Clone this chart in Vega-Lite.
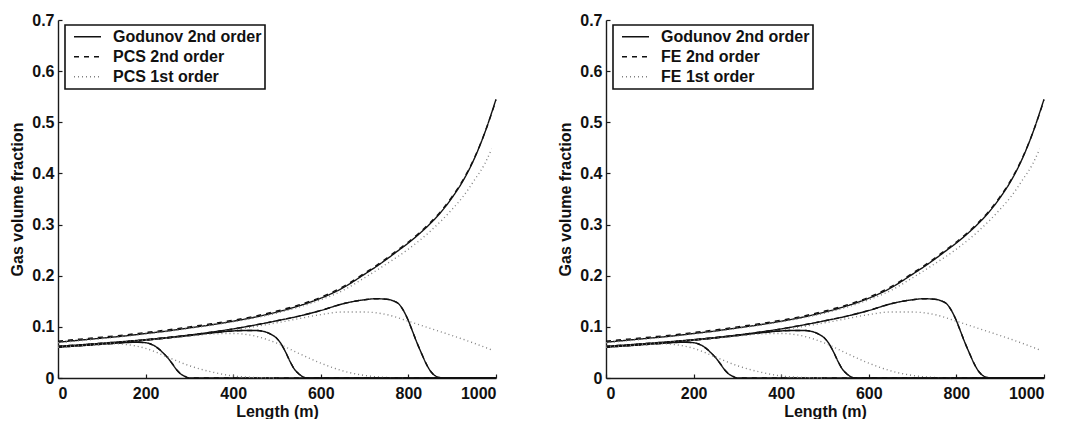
{
  "$schema": "https://vega.github.io/schema/vega-lite/v6.json",
  "padding": {"left": 9, "top": 12, "right": 5, "bottom": 0},
  "config": {
    "view": {"stroke": null},
    "font": "Liberation Sans",
    "axis": {
      "grid": false,
      "domainColor": "#1a1a1a",
      "domainWidth": 1.4,
      "tickColor": "#1a1a1a",
      "tickWidth": 1.2,
      "tickSize": -4,
      "labelFont": "Liberation Sans",
      "labelFontWeight": "bold",
      "labelFontSize": 16,
      "labelColor": "#111",
      "titleFont": "Liberation Sans",
      "titleFontWeight": "bold",
      "titleFontSize": 16,
      "titleColor": "#111"
    },
    "legend": {
      "orient": "none",
      "legendX": 7,
      "legendY": 5,
      "title": null,
      "strokeColor": "#111",
      "fillColor": "white",
      "padding": 3,
      "symbolOffset": 5,
      "labelFont": "Liberation Sans",
      "labelFontWeight": "bold",
      "labelFontSize": 16,
      "labelColor": "#111",
      "labelOffset": 11,
      "symbolType": "stroke",
      "symbolSize": 729,
      "symbolStrokeWidth": 1.3,
      "clipHeight": 17.5,
      "rowPadding": 2
    }
  },
  "datasets": {
    "names": [
      {"s": "G", "pcs": "Godunov 2nd order", "fe": "Godunov 2nd order"},
      {"s": "S2", "pcs": "PCS 2nd order", "fe": "FE 2nd order"},
      {"s": "S1", "pcs": "PCS 1st order", "fe": "FE 1st order"}
    ],
    "curves": [
      {"c": 1, "s": "G", "x": 0, "y": 0.070},
      {"c": 1, "s": "G", "x": 50, "y": 0.074},
      {"c": 1, "s": "G", "x": 100, "y": 0.078},
      {"c": 1, "s": "G", "x": 150, "y": 0.082},
      {"c": 1, "s": "G", "x": 200, "y": 0.087},
      {"c": 1, "s": "G", "x": 250, "y": 0.092},
      {"c": 1, "s": "G", "x": 300, "y": 0.098},
      {"c": 1, "s": "G", "x": 350, "y": 0.104},
      {"c": 1, "s": "G", "x": 400, "y": 0.111},
      {"c": 1, "s": "G", "x": 450, "y": 0.119},
      {"c": 1, "s": "G", "x": 500, "y": 0.129},
      {"c": 1, "s": "G", "x": 550, "y": 0.141},
      {"c": 1, "s": "G", "x": 600, "y": 0.156},
      {"c": 1, "s": "G", "x": 650, "y": 0.176},
      {"c": 1, "s": "G", "x": 700, "y": 0.203},
      {"c": 1, "s": "G", "x": 725, "y": 0.217},
      {"c": 1, "s": "G", "x": 750, "y": 0.232},
      {"c": 1, "s": "G", "x": 775, "y": 0.248},
      {"c": 1, "s": "G", "x": 800, "y": 0.264},
      {"c": 1, "s": "G", "x": 825, "y": 0.282},
      {"c": 1, "s": "G", "x": 850, "y": 0.302},
      {"c": 1, "s": "G", "x": 875, "y": 0.325},
      {"c": 1, "s": "G", "x": 900, "y": 0.353},
      {"c": 1, "s": "G", "x": 925, "y": 0.386},
      {"c": 1, "s": "G", "x": 950, "y": 0.428},
      {"c": 1, "s": "G", "x": 975, "y": 0.481},
      {"c": 1, "s": "G", "x": 1000, "y": 0.545},

      {"c": 1, "s": "S2", "x": 0, "y": 0.072},
      {"c": 1, "s": "S2", "x": 50, "y": 0.076},
      {"c": 1, "s": "S2", "x": 100, "y": 0.080},
      {"c": 1, "s": "S2", "x": 150, "y": 0.084},
      {"c": 1, "s": "S2", "x": 200, "y": 0.089},
      {"c": 1, "s": "S2", "x": 250, "y": 0.094},
      {"c": 1, "s": "S2", "x": 300, "y": 0.100},
      {"c": 1, "s": "S2", "x": 350, "y": 0.106},
      {"c": 1, "s": "S2", "x": 400, "y": 0.113},
      {"c": 1, "s": "S2", "x": 450, "y": 0.121},
      {"c": 1, "s": "S2", "x": 500, "y": 0.131},
      {"c": 1, "s": "S2", "x": 550, "y": 0.143},
      {"c": 1, "s": "S2", "x": 600, "y": 0.158},
      {"c": 1, "s": "S2", "x": 650, "y": 0.178},
      {"c": 1, "s": "S2", "x": 700, "y": 0.205},
      {"c": 1, "s": "S2", "x": 725, "y": 0.219},
      {"c": 1, "s": "S2", "x": 750, "y": 0.234},
      {"c": 1, "s": "S2", "x": 775, "y": 0.250},
      {"c": 1, "s": "S2", "x": 800, "y": 0.266},
      {"c": 1, "s": "S2", "x": 825, "y": 0.284},
      {"c": 1, "s": "S2", "x": 850, "y": 0.304},
      {"c": 1, "s": "S2", "x": 875, "y": 0.327},
      {"c": 1, "s": "S2", "x": 900, "y": 0.355},
      {"c": 1, "s": "S2", "x": 925, "y": 0.388},
      {"c": 1, "s": "S2", "x": 950, "y": 0.429},
      {"c": 1, "s": "S2", "x": 975, "y": 0.481},
      {"c": 1, "s": "S2", "x": 1000, "y": 0.543},

      {"c": 1, "s": "S1", "x": 0, "y": 0.069},
      {"c": 1, "s": "S1", "x": 100, "y": 0.077},
      {"c": 1, "s": "S1", "x": 200, "y": 0.086},
      {"c": 1, "s": "S1", "x": 300, "y": 0.097},
      {"c": 1, "s": "S1", "x": 400, "y": 0.110},
      {"c": 1, "s": "S1", "x": 500, "y": 0.127},
      {"c": 1, "s": "S1", "x": 600, "y": 0.153},
      {"c": 1, "s": "S1", "x": 650, "y": 0.171},
      {"c": 1, "s": "S1", "x": 700, "y": 0.196},
      {"c": 1, "s": "S1", "x": 750, "y": 0.223},
      {"c": 1, "s": "S1", "x": 800, "y": 0.252},
      {"c": 1, "s": "S1", "x": 850, "y": 0.287},
      {"c": 1, "s": "S1", "x": 900, "y": 0.330},
      {"c": 1, "s": "S1", "x": 925, "y": 0.355},
      {"c": 1, "s": "S1", "x": 950, "y": 0.386},
      {"c": 1, "s": "S1", "x": 975, "y": 0.420},
      {"c": 1, "s": "S1", "x": 990, "y": 0.448},

      {"c": 2, "s": "G", "x": 0, "y": 0.062},
      {"c": 2, "s": "G", "x": 100, "y": 0.068},
      {"c": 2, "s": "G", "x": 200, "y": 0.075},
      {"c": 2, "s": "G", "x": 300, "y": 0.084},
      {"c": 2, "s": "G", "x": 400, "y": 0.096},
      {"c": 2, "s": "G", "x": 500, "y": 0.112},
      {"c": 2, "s": "G", "x": 550, "y": 0.121},
      {"c": 2, "s": "G", "x": 600, "y": 0.132},
      {"c": 2, "s": "G", "x": 650, "y": 0.145},
      {"c": 2, "s": "G", "x": 700, "y": 0.153},
      {"c": 2, "s": "G", "x": 725, "y": 0.155},
      {"c": 2, "s": "G", "x": 750, "y": 0.154},
      {"c": 2, "s": "G", "x": 765, "y": 0.151},
      {"c": 2, "s": "G", "x": 780, "y": 0.143},
      {"c": 2, "s": "G", "x": 790, "y": 0.130},
      {"c": 2, "s": "G", "x": 800, "y": 0.112},
      {"c": 2, "s": "G", "x": 810, "y": 0.090},
      {"c": 2, "s": "G", "x": 820, "y": 0.068},
      {"c": 2, "s": "G", "x": 830, "y": 0.048},
      {"c": 2, "s": "G", "x": 840, "y": 0.029},
      {"c": 2, "s": "G", "x": 850, "y": 0.014},
      {"c": 2, "s": "G", "x": 860, "y": 0.005},
      {"c": 2, "s": "G", "x": 870, "y": 0.001},
      {"c": 2, "s": "G", "x": 880, "y": 0.0},
      {"c": 2, "s": "G", "x": 1000, "y": 0.0},

      {"c": 2, "s": "S2", "x": 0, "y": 0.062},
      {"c": 2, "s": "S2", "x": 100, "y": 0.068},
      {"c": 2, "s": "S2", "x": 200, "y": 0.075},
      {"c": 2, "s": "S2", "x": 300, "y": 0.084},
      {"c": 2, "s": "S2", "x": 400, "y": 0.096},
      {"c": 2, "s": "S2", "x": 500, "y": 0.112},
      {"c": 2, "s": "S2", "x": 550, "y": 0.121},
      {"c": 2, "s": "S2", "x": 600, "y": 0.132},
      {"c": 2, "s": "S2", "x": 650, "y": 0.145},
      {"c": 2, "s": "S2", "x": 700, "y": 0.153},
      {"c": 2, "s": "S2", "x": 725, "y": 0.155},
      {"c": 2, "s": "S2", "x": 750, "y": 0.154},
      {"c": 2, "s": "S2", "x": 765, "y": 0.151},
      {"c": 2, "s": "S2", "x": 780, "y": 0.143},
      {"c": 2, "s": "S2", "x": 790, "y": 0.130},
      {"c": 2, "s": "S2", "x": 800, "y": 0.112},
      {"c": 2, "s": "S2", "x": 810, "y": 0.090},
      {"c": 2, "s": "S2", "x": 820, "y": 0.068},
      {"c": 2, "s": "S2", "x": 830, "y": 0.048},
      {"c": 2, "s": "S2", "x": 840, "y": 0.029},
      {"c": 2, "s": "S2", "x": 850, "y": 0.014},
      {"c": 2, "s": "S2", "x": 860, "y": 0.005},
      {"c": 2, "s": "S2", "x": 870, "y": 0.001},
      {"c": 2, "s": "S2", "x": 880, "y": 0.0},
      {"c": 2, "s": "S2", "x": 1000, "y": 0.0},

      {"c": 2, "s": "S1", "x": 0, "y": 0.062},
      {"c": 2, "s": "S1", "x": 100, "y": 0.068},
      {"c": 2, "s": "S1", "x": 200, "y": 0.075},
      {"c": 2, "s": "S1", "x": 300, "y": 0.083},
      {"c": 2, "s": "S1", "x": 400, "y": 0.094},
      {"c": 2, "s": "S1", "x": 500, "y": 0.108},
      {"c": 2, "s": "S1", "x": 550, "y": 0.116},
      {"c": 2, "s": "S1", "x": 600, "y": 0.124},
      {"c": 2, "s": "S1", "x": 650, "y": 0.129},
      {"c": 2, "s": "S1", "x": 700, "y": 0.129},
      {"c": 2, "s": "S1", "x": 750, "y": 0.124},
      {"c": 2, "s": "S1", "x": 800, "y": 0.111},
      {"c": 2, "s": "S1", "x": 850, "y": 0.097},
      {"c": 2, "s": "S1", "x": 900, "y": 0.083},
      {"c": 2, "s": "S1", "x": 950, "y": 0.068},
      {"c": 2, "s": "S1", "x": 990, "y": 0.055},

      {"c": 3, "s": "G", "x": 0, "y": 0.061},
      {"c": 3, "s": "G", "x": 100, "y": 0.067},
      {"c": 3, "s": "G", "x": 200, "y": 0.074},
      {"c": 3, "s": "G", "x": 300, "y": 0.083},
      {"c": 3, "s": "G", "x": 350, "y": 0.088},
      {"c": 3, "s": "G", "x": 400, "y": 0.092},
      {"c": 3, "s": "G", "x": 425, "y": 0.093},
      {"c": 3, "s": "G", "x": 450, "y": 0.093},
      {"c": 3, "s": "G", "x": 470, "y": 0.091},
      {"c": 3, "s": "G", "x": 485, "y": 0.086},
      {"c": 3, "s": "G", "x": 500, "y": 0.077},
      {"c": 3, "s": "G", "x": 510, "y": 0.066},
      {"c": 3, "s": "G", "x": 520, "y": 0.050},
      {"c": 3, "s": "G", "x": 530, "y": 0.032},
      {"c": 3, "s": "G", "x": 540, "y": 0.017},
      {"c": 3, "s": "G", "x": 550, "y": 0.008},
      {"c": 3, "s": "G", "x": 560, "y": 0.002},
      {"c": 3, "s": "G", "x": 570, "y": 0.0},
      {"c": 3, "s": "G", "x": 1000, "y": 0.0},

      {"c": 3, "s": "S2", "x": 0, "y": 0.061},
      {"c": 3, "s": "S2", "x": 100, "y": 0.067},
      {"c": 3, "s": "S2", "x": 200, "y": 0.074},
      {"c": 3, "s": "S2", "x": 300, "y": 0.083},
      {"c": 3, "s": "S2", "x": 350, "y": 0.088},
      {"c": 3, "s": "S2", "x": 400, "y": 0.092},
      {"c": 3, "s": "S2", "x": 425, "y": 0.093},
      {"c": 3, "s": "S2", "x": 450, "y": 0.093},
      {"c": 3, "s": "S2", "x": 470, "y": 0.091},
      {"c": 3, "s": "S2", "x": 485, "y": 0.086},
      {"c": 3, "s": "S2", "x": 500, "y": 0.077},
      {"c": 3, "s": "S2", "x": 510, "y": 0.066},
      {"c": 3, "s": "S2", "x": 520, "y": 0.050},
      {"c": 3, "s": "S2", "x": 530, "y": 0.032},
      {"c": 3, "s": "S2", "x": 540, "y": 0.017},
      {"c": 3, "s": "S2", "x": 550, "y": 0.008},
      {"c": 3, "s": "S2", "x": 560, "y": 0.002},
      {"c": 3, "s": "S2", "x": 570, "y": 0.0},
      {"c": 3, "s": "S2", "x": 1000, "y": 0.0},

      {"c": 3, "s": "S1", "x": 0, "y": 0.061},
      {"c": 3, "s": "S1", "x": 100, "y": 0.067},
      {"c": 3, "s": "S1", "x": 200, "y": 0.074},
      {"c": 3, "s": "S1", "x": 300, "y": 0.082},
      {"c": 3, "s": "S1", "x": 350, "y": 0.086},
      {"c": 3, "s": "S1", "x": 400, "y": 0.087},
      {"c": 3, "s": "S1", "x": 450, "y": 0.082},
      {"c": 3, "s": "S1", "x": 500, "y": 0.068},
      {"c": 3, "s": "S1", "x": 550, "y": 0.048},
      {"c": 3, "s": "S1", "x": 600, "y": 0.029},
      {"c": 3, "s": "S1", "x": 650, "y": 0.014},
      {"c": 3, "s": "S1", "x": 700, "y": 0.005},
      {"c": 3, "s": "S1", "x": 750, "y": 0.001},
      {"c": 3, "s": "S1", "x": 800, "y": 0.0},

      {"c": 4, "s": "G", "x": 0, "y": 0.060},
      {"c": 4, "s": "G", "x": 50, "y": 0.063},
      {"c": 4, "s": "G", "x": 100, "y": 0.066},
      {"c": 4, "s": "G", "x": 150, "y": 0.069},
      {"c": 4, "s": "G", "x": 175, "y": 0.070},
      {"c": 4, "s": "G", "x": 200, "y": 0.069},
      {"c": 4, "s": "G", "x": 210, "y": 0.067},
      {"c": 4, "s": "G", "x": 220, "y": 0.063},
      {"c": 4, "s": "G", "x": 230, "y": 0.057},
      {"c": 4, "s": "G", "x": 240, "y": 0.049},
      {"c": 4, "s": "G", "x": 250, "y": 0.040},
      {"c": 4, "s": "G", "x": 260, "y": 0.029},
      {"c": 4, "s": "G", "x": 270, "y": 0.017},
      {"c": 4, "s": "G", "x": 280, "y": 0.008},
      {"c": 4, "s": "G", "x": 290, "y": 0.003},
      {"c": 4, "s": "G", "x": 300, "y": 0.0},
      {"c": 4, "s": "G", "x": 1000, "y": 0.0},

      {"c": 4, "s": "S2", "x": 0, "y": 0.060},
      {"c": 4, "s": "S2", "x": 50, "y": 0.063},
      {"c": 4, "s": "S2", "x": 100, "y": 0.066},
      {"c": 4, "s": "S2", "x": 150, "y": 0.069},
      {"c": 4, "s": "S2", "x": 175, "y": 0.070},
      {"c": 4, "s": "S2", "x": 200, "y": 0.069},
      {"c": 4, "s": "S2", "x": 210, "y": 0.067},
      {"c": 4, "s": "S2", "x": 220, "y": 0.063},
      {"c": 4, "s": "S2", "x": 230, "y": 0.057},
      {"c": 4, "s": "S2", "x": 240, "y": 0.049},
      {"c": 4, "s": "S2", "x": 250, "y": 0.040},
      {"c": 4, "s": "S2", "x": 260, "y": 0.029},
      {"c": 4, "s": "S2", "x": 270, "y": 0.017},
      {"c": 4, "s": "S2", "x": 280, "y": 0.008},
      {"c": 4, "s": "S2", "x": 290, "y": 0.003},
      {"c": 4, "s": "S2", "x": 300, "y": 0.0},
      {"c": 4, "s": "S2", "x": 1000, "y": 0.0},

      {"c": 4, "s": "S1", "x": 0, "y": 0.060},
      {"c": 4, "s": "S1", "x": 50, "y": 0.063},
      {"c": 4, "s": "S1", "x": 100, "y": 0.066},
      {"c": 4, "s": "S1", "x": 130, "y": 0.067},
      {"c": 4, "s": "S1", "x": 150, "y": 0.066},
      {"c": 4, "s": "S1", "x": 175, "y": 0.063},
      {"c": 4, "s": "S1", "x": 200, "y": 0.058},
      {"c": 4, "s": "S1", "x": 250, "y": 0.041},
      {"c": 4, "s": "S1", "x": 300, "y": 0.024},
      {"c": 4, "s": "S1", "x": 350, "y": 0.012},
      {"c": 4, "s": "S1", "x": 400, "y": 0.004},
      {"c": 4, "s": "S1", "x": 450, "y": 0.001},
      {"c": 4, "s": "S1", "x": 500, "y": 0.0}
    ]
  },
  "hconcat": [
    {
      "width": 438,
      "height": 358,
      "data": {"name": "curves"},
      "transform": [
        {"lookup": "s", "from": {"data": {"name": "names"}, "key": "s", "fields": ["pcs"]}}
      ],
      "mark": {"type": "line", "strokeWidth": 1.4, "interpolate": "monotone"},
      "encoding": {
        "x": {"field": "x", "type": "quantitative", "scale": {"domain": [0, 1000], "nice": false},
              "axis": {"title": "Length (m)", "values": [0, 200, 400, 600, 800, 1000], "format": "d", "labelPadding": 11, "titlePadding": 2}},
        "y": {"field": "y", "type": "quantitative", "scale": {"domain": [0, 0.7], "nice": false},
              "axis": {"title": "Gas volume fraction", "values": [0, 0.1, 0.2, 0.3, 0.4, 0.5, 0.6, 0.7],
                       "labelExpr": "datum.value == 0 ? '0' : format(datum.value, '.1f')", "labelPadding": 8, "titlePadding": 6}},
        "detail": {"field": "c"},
        "color": {"field": "pcs", "type": "nominal",
                  "scale": {"domain": ["Godunov 2nd order", "PCS 2nd order", "PCS 1st order"], "range": ["#111111", "#111111", "#808080"]},
                  "legend": {"encode": {"legend": {"update": {"stroke": {"value": "#111"}, "strokeWidth": {"value": 1.6}, "fill": {"value": "white"}}}}}},
        "strokeDash": {"field": "pcs", "type": "nominal",
                       "scale": {"domain": ["Godunov 2nd order", "PCS 2nd order", "PCS 1st order"], "range": [[1, 0], [5, 5], [1, 3]]},
                       "legend": {"encode": {"legend": {"update": {"stroke": {"value": "#111"}, "strokeWidth": {"value": 1.6}, "fill": {"value": "white"}}}}}}
      }
    },
    {
      "width": 438,
      "height": 358,
      "data": {"name": "curves"},
      "transform": [
        {"lookup": "s", "from": {"data": {"name": "names"}, "key": "s", "fields": ["fe"]}}
      ],
      "mark": {"type": "line", "strokeWidth": 1.4, "interpolate": "monotone"},
      "encoding": {
        "x": {"field": "x", "type": "quantitative", "scale": {"domain": [0, 1000], "nice": false},
              "axis": {"title": "Length (m)", "values": [0, 200, 400, 600, 800, 1000], "format": "d", "labelPadding": 11, "titlePadding": 2}},
        "y": {"field": "y", "type": "quantitative", "scale": {"domain": [0, 0.7], "nice": false},
              "axis": {"title": "Gas volume fraction", "values": [0, 0.1, 0.2, 0.3, 0.4, 0.5, 0.6, 0.7],
                       "labelExpr": "datum.value == 0 ? '0' : format(datum.value, '.1f')", "labelPadding": 8, "titlePadding": 6}},
        "detail": {"field": "c"},
        "color": {"field": "fe", "type": "nominal",
                  "scale": {"domain": ["Godunov 2nd order", "FE 2nd order", "FE 1st order"], "range": ["#111111", "#111111", "#808080"]},
                  "legend": {"encode": {"legend": {"update": {"stroke": {"value": "#111"}, "strokeWidth": {"value": 1.6}, "fill": {"value": "white"}}}}}},
        "strokeDash": {"field": "fe", "type": "nominal",
                       "scale": {"domain": ["Godunov 2nd order", "FE 2nd order", "FE 1st order"], "range": [[1, 0], [5, 5], [1, 3]]},
                       "legend": {"encode": {"legend": {"update": {"stroke": {"value": "#111"}, "strokeWidth": {"value": 1.6}, "fill": {"value": "white"}}}}}}
      }
    }
  ],
  "spacing": 58,
  "resolve": {"scale": {"color": "independent", "strokeDash": "independent"}, "legend": {"color": "independent", "strokeDash": "independent"}}
}
